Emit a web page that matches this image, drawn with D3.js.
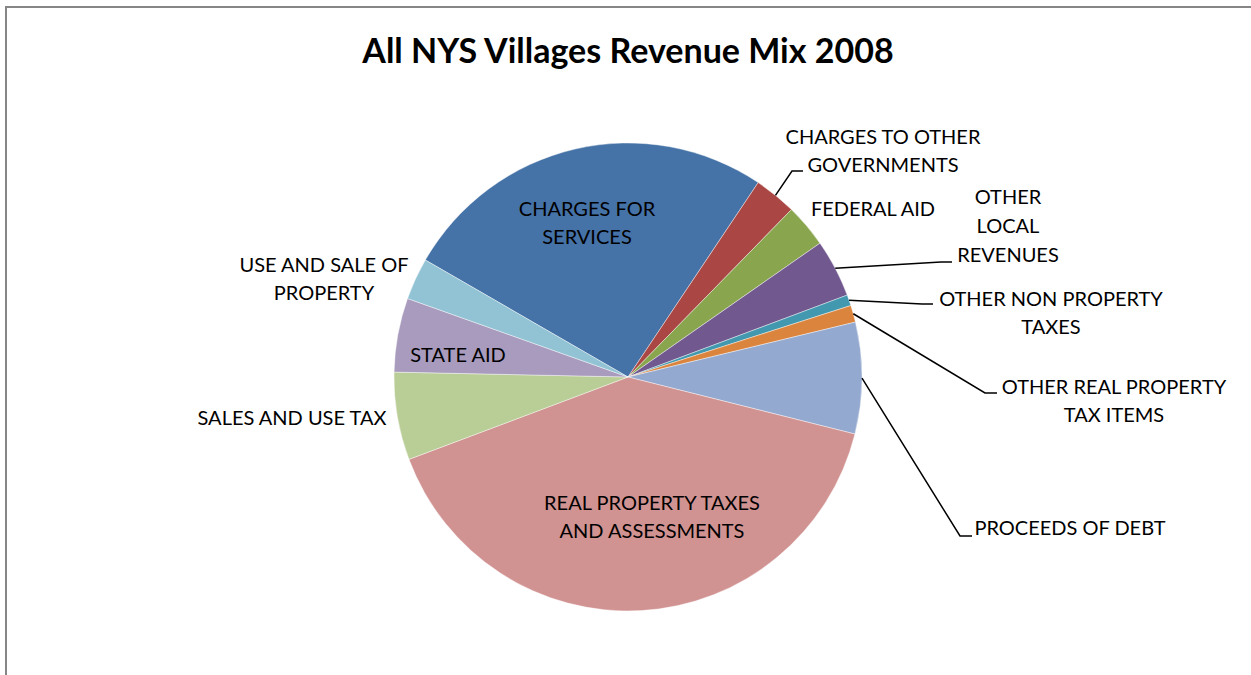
<!doctype html>
<html lang="en">
<head>
  <meta charset="utf-8">
  <title>All NYS Villages Revenue Mix 2008</title>
  <script src="https://d3js.org/d3.v7.min.js" charset="utf-8"></script>
</head>
<body style="margin:0;background:#fff">
<style>
.chart text {
  font-family: Lato, "Open Sans", sans-serif;
  fill: #000;
}
</style>
<svg class="chart"></svg>
<script>
// revenue categories (alphabetical, as in the sheet) and share in percent
var categories = [
  "CHARGES FOR SERVICES", "CHARGES TO OTHER GOVERNMENTS", "FEDERAL AID",
  "OTHER LOCAL REVENUES", "OTHER NON PROPERTY TAXES", "OTHER REAL PROPERTY TAX ITEMS",
  "PROCEEDS OF DEBT", "REAL PROPERTY TAXES AND ASSESSMENTS", "SALES AND USE TAX",
  "STATE AID", "USE AND SALE OF PROPERTY"
];
var shares = [26.06, 2.92, 3.0, 4.0, 0.75, 1.17, 7.69, 40.36, 6.06, 5.11, 2.89];
var colors = ["#4572a7", "#aa4643", "#89a54e", "#71588f", "#4198af", "#db843d",
              "#93a9cf", "#d19392", "#b9cd96", "#a99bbd", "#92c3d4"];

// label text split into lines as in the chart
var labelLines = [
  ["CHARGES FOR", "SERVICES"], ["CHARGES TO OTHER", "GOVERNMENTS"], ["FEDERAL AID"],
  ["OTHER", "LOCAL", "REVENUES"], ["OTHER NON PROPERTY", "TAXES"],
  ["OTHER REAL PROPERTY", "TAX ITEMS"], ["PROCEEDS OF DEBT"],
  ["REAL PROPERTY TAXES", "AND ASSESSMENTS"], ["SALES AND USE TAX"], ["STATE AID"],
  ["USE AND SALE OF", "PROPERTY"]
];

var width = 1251, height = 675;
var cx = 628, cy = 377, radius = 234;

// label placement (center of first line) and leader elbow/end, by category index
var labelPos = [
  {x: 587, y: 209}, {x: 883, y: 137, lead: [792, 171, 803, 171]}, {x: 873, y: 209},
  {x: 1008, y: 197, lh: 29, lead: [941, 262, 952, 262]},
  {x: 1051, y: 299, lead: [922, 304, 933, 304]},
  {x: 1114, y: 387, lead: [985, 393, 997, 393]},
  {x: 1070, y: 528, lead: [960, 536, 972, 536]},
  {x: 652, y: 503}, {x: 292, y: 418}, {x: 458, y: 355}, {x: 324, y: 265}
];

var data = categories.map(function(c, i) { return {name: c, value: shares[i], i: i}; });

var svg = d3.select(".chart").attr("width", width).attr("height", height);

// chart area border (only top/left visible in crop)
svg.append("path")
  .attr("d", "M6," + height + "V7H" + width)
  .attr("fill", "none").attr("stroke", "#868686").attr("stroke-width", 2);

svg.append("text")
  .attr("x", cx).attr("y", 63)
  .attr("text-anchor", "middle")
  .style("font-size", "34px").style("font-weight", "bold")
  .text("All NYS Villages Revenue Mix 2008");

var start = 300 * Math.PI / 180;
var pie = d3.pie().sort(null).value(function(d) { return d.value; })
  .startAngle(start).endAngle(start + 2 * Math.PI);
var arc = d3.arc().innerRadius(0).outerRadius(radius);
var arcs = pie(data);

var g = svg.append("g").attr("transform", "translate(" + cx + "," + cy + ")");
g.selectAll("path.slice")
  .data(arcs)
  .enter().append("path")
  .attr("class", "slice")
  .attr("d", arc)
  .attr("fill", function(d) { return colors[d.data.i]; })
  .attr("stroke", "#fff").attr("stroke-width", 0.6).attr("stroke-opacity", 0.7);

// leader lines from slice edge at mid angle
arcs.forEach(function(a) {
  var p = labelPos[a.data.i];
  if (!p.lead) return;
  var mid = (a.startAngle + a.endAngle) / 2;
  var sx = cx + radius * Math.sin(mid), sy = cy - radius * Math.cos(mid);
  svg.append("path")
    .attr("d", "M" + sx + "," + sy + "L" + p.lead[0] + "," + p.lead[1] + "L" + p.lead[2] + "," + p.lead[3])
    .attr("fill", "none").attr("stroke", "#000").attr("stroke-width", 1.5);
});

// labels
data.forEach(function(d) {
  var p = labelPos[d.i], lh = p.lh || 28;
  var t = svg.append("text")
    .attr("text-anchor", "middle")
    .style("font-size", "20px");
  labelLines[d.i].forEach(function(line, k) {
    t.append("tspan").attr("x", p.x).attr("y", p.y + k * lh).attr("dy", "0.35em").text(line);
  });
});
</script>
</body>
</html>
